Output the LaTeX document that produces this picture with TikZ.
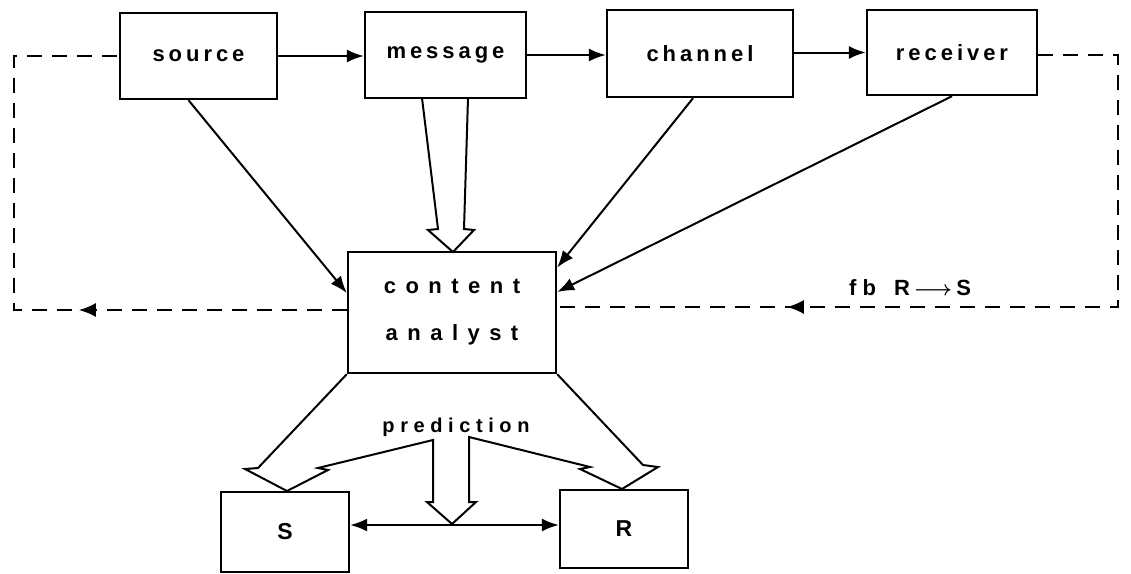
\documentclass[tikz,border=0pt]{standalone}
\usepackage{fontspec}
\setmainfont{Liberation Sans}
\newfontfamily\lblfont[LetterSpace=18]{Liberation Sans}
\newfontfamily\widefont[LetterSpace=43]{Liberation Sans}
\newfontfamily\predfont[LetterSpace=28]{Liberation Sans}
\usetikzlibrary{arrows.meta,decorations.markings,calc}
\begin{document}
\begin{tikzpicture}[x=1pt,y=-1pt, line width=2pt, line join=miter,
  box/.style={draw, line width=2.4pt, inner sep=0pt, font=\lblfont\bfseries\fontsize{22}{24}\selectfont},
  arr/.style={-{Latex[length=17pt,width=13pt]}},
  fbline/.style={dash pattern=on 15pt off 10pt, line width=2.2pt},
  fat/.style={line width=2pt, line join=miter}]
\useasboundingbox (0,0) rectangle (1131,573);
\fill[white] (0,0) rectangle (1131,573);

% boxes
\node[box, minimum width=157pt, minimum height=86pt] (source) at (198.5,56) {source};
\node[box, minimum width=161pt, minimum height=86pt] (message) at (445.5,55) {message};
\node[box, minimum width=186pt, minimum height=87pt] (channel) at (700,53.5) {channel\hspace{14pt}};
\node[box, minimum width=170pt, minimum height=85pt] (receiver) at (952,52.5) {receiver};
\node[box, minimum width=208pt, minimum height=121pt, align=center,
      font=\widefont\bfseries\fontsize{22}{47}\selectfont] (ca) at (452,312.5) {content\\analyst};
\node[box, minimum width=128pt, minimum height=80pt, font=\bfseries\fontsize{23}{24}\selectfont] (S) at (285,532) {S};
\node[box, minimum width=128pt, minimum height=78pt, font=\bfseries\fontsize{23}{24}\selectfont] (R) at (624,529) {R};

% top chain
\draw[arr] (source.east) -- (message.west |- source.east);
\draw[arr] (message.east) -- (channel.west |- message.east);
\draw[arr] (channel.east |- receiver.east) -- (receiver.west);

% diagonal arrows into content analyst
\draw[arr] ($(source.south)+(-10,0)$) -- ($(ca.west)+(0,-19.5)$);
\draw[arr] ($(channel.south)+(-7,0)$) -- ($(ca.east)+(0,-45)$);
\draw[arr] (receiver.south) -- ($(ca.east)+(0,-20.5)$);

% hollow arrow message -> content analyst
\draw[fat] (422,98) -- (438,229) -- (428,230) -- (453,252) -- (474,230) -- (464,229) -- (468,98);

% feedback loops
\coordinate (fl1) at (14,310);
\coordinate (fl2) at (14,56);
\coordinate (fr1) at (1118,55);
\coordinate (fr2) at (1118,307);
\draw[fbline, postaction={decorate}, decoration={markings, mark=at position 268pt with {\arrow{Latex[length=17pt,width=14pt]}}}]
  ($(ca.west)+(0,-2.5)$) -- (fl1) -- (fl2) -- (source.west);
\draw[fbline, postaction={decorate}, decoration={markings, mark=at position 663pt with {\arrow{Latex[length=17pt,width=14pt]}}}]
  (receiver.east |- fr1) -- (fr1) -- (fr2) -- ($(ca.east)+(0,-5.5)$);
\node[font=\predfont\bfseries\fontsize{22}{24}\selectfont, anchor=base] (fb) at (910,295) {fb\hspace{18pt}R$\,\mathversion{bold}\longrightarrow\,$S};

% prediction
\node[font=\predfont\bfseries\fontsize{20}{22}\selectfont] (pred) at (456,427) {prediction};
\draw[fat] (ca.south west) -- (258,468) -- (245,469) -- (287,491) -- (328,470) -- (318,468) -- (433,440)
  -- (433,502) -- (427,502) -- (452,524) -- (476,502) -- (469,502) -- (469,437)
  -- (590,467) -- (580,469) -- (622,489) -- (658,467) -- (643,465) -- (ca.south east);

% S <-> R
\draw[{Latex[length=17pt,width=13pt]}-{Latex[length=17pt,width=13pt]}] ($(S.east)+(0,-7)$) -- ($(R.west)+(0,-4)$);
\end{tikzpicture}
\end{document}
